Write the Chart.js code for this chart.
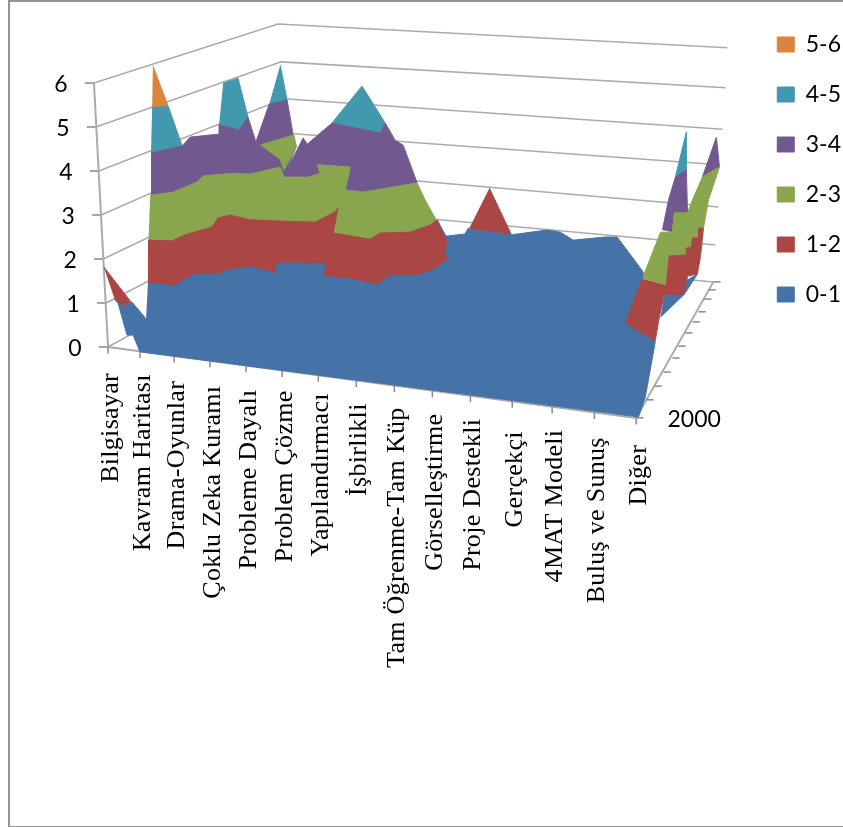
<!DOCTYPE html>
<html lang="tr">
<head>
<meta charset="utf-8">
<title>Yöntemler</title>
<script src="https://cdn.jsdelivr.net/npm/chart.js@4"></script>
<style>
    html, body { margin: 0; padding: 0; background: #fff; overflow: hidden; }
    #frame { position: absolute; left: 8px; top: 0; width: 900px; height: 824px; border: 2px solid #949494; box-sizing: content-box; }
    #surface { position: absolute; left: 0; top: 0; }
</style>
</head>
<body>
<div id="frame"></div>
<canvas id="surface" width="843" height="827"></canvas>
<script>
// Axis texts
const categories = ['Bilgisayar', 'Kavram Haritası', 'Drama-Oyunlar', 'Çoklu Zeka Kuramı', 'Probleme Dayalı',
    'Problem Çözme', 'Yapılandırmacı', 'İşbirlikli', 'Tam Öğrenme-Tam Küp', 'Görselleştirme',
    'Proje Destekli', 'Gerçekçi', '4MAT Modeli', 'Buluş ve Sunuş', 'Diğer'];
const valueTicks = [0, 1, 2, 3, 4, 5, 6];
const bandLabels = ['5-6', '4-5', '3-4', '2-3', '1-2', '0-1'];
const seriesLabel = '2000';

// Where each category and year sits along the slanted floor edges [category position, value]
const categoryStops = [0, 0.84, 1.74, 2.68, 3.63, 4.58, 5.53, 6.53, 7.53, 8.53, 9.53, 10.63, 11.68, 12.79, 13.89];
const categoryLabelGaps = [26, 23, 25, 25, 24, 20, 18, 23, 22, 23, 23, 30, 23, 25, 27];
const seriesStops = [[13.89, -1.61], [14.16, -1.20], [14.37, -0.89], [14.61, -0.57], [14.84, -0.25], [15.00, 0.02],
    [15.18, 0.32], [15.37, 0.57], [15.53, 0.80], [15.68, 1.09], [15.79, 1.30], [15.92, 1.48]];

// Walls: front, back-left and back-right end of every value level, 0 to 6
const wallFront = [[0, 0], [-0.05, 1], [-0.13, 2], [-0.18, 3], [-0.24, 4], [-0.32, 5], [-0.37, 6]];
const wallBackLeft = [[4.95, 2.36], [4.87, 3.20], [4.79, 4.02], [4.71, 4.86], [4.63, 5.64], [4.55, 6.48], [4.47, 7.34]];
const wallBackRight = [[15.92, 1.48], [15.97, 2.32], [16.05, 3.18], [16.08, 4.14], [16.16, 4.95], [16.24, 5.89], [16.29, 6.80]];

// Surface bands, outlined as [category position, value]
const orangePeak = [[1.18, 6.39], [1.58, 5.48], [1.16, 5.43]];

const tealKavram = [[1.16, 5.43], [1.58, 5.48], [1.95, 4.57], [1.13, 4.41]];
const tealCoklu = [[3.03, 6.00], [3.42, 6.11], [3.68, 5.23], [3.45, 4.93], [2.92, 5.05]];
const tealProblem = [[4.53, 6.41], [4.71, 5.61], [4.24, 5.52]];
const tealIsbirlikli = [[5.89, 5.09], [6.68, 5.93], [7.29, 5.09], [7.16, 4.86]];
const tealDiger = [[14.92, 3.86], [15.21, 4.89], [15.21, 4.02]];

const purpleLeft = [[1.13, 4.41], [1.95, 4.57], [2.16, 4.77], [2.92, 4.84], [2.92, 5.05], [3.45, 4.93], [3.68, 5.23],
    [3.89, 4.66], [4.24, 5.52], [4.71, 5.61], [4.87, 4.82], [4.95, 4.55], [4.63, 3.86], [4.53, 3.57], [1.13, 3.23]];
const greenNotch = [[4.00, 4.59], [4.53, 4.73], [4.89, 4.82], [4.95, 4.55], [4.63, 4.02], [4.53, 4.25]];
const purpleMiddle = [[4.61, 3.86], [5.13, 4.75], [5.24, 4.61], [5.89, 5.09], [7.16, 4.86], [7.29, 5.09], [7.55, 4.70],
    [7.76, 4.59], [8.13, 3.73], [6.71, 3.52], [6.24, 3.57], [6.37, 4.09], [5.50, 4.14], [5.58, 3.95], [5.26, 3.86]];
const purpleRightA = [[14.58, 2.66], [14.74, 3.34], [14.92, 3.86], [15.21, 4.02], [15.24, 3.05], [14.89, 3.05], [14.84, 2.61]];
const purpleRightB = [[15.63, 3.86], [16.00, 4.77], [16.08, 4.09], [15.79, 3.95]];

const greenMain = [[1.11, 3.45], [1.71, 3.52], [2.34, 3.75], [2.50, 3.89], [3.29, 3.95], [3.74, 3.93], [4.53, 4.09],
    [4.63, 3.86], [5.26, 3.86], [5.58, 3.95], [5.50, 4.14], [6.37, 4.09], [6.24, 3.57], [6.71, 3.52], [8.13, 3.73],
    [8.34, 3.34], [8.66, 2.84], [8.47, 2.43], [1.05, 2.09]];
const greenRight = [[14.05, 1.55], [14.53, 2.61], [14.84, 2.61], [14.89, 3.05], [15.24, 3.05], [15.37, 3.34],
    [15.63, 3.86], [15.79, 3.95], [16.08, 4.09], [15.79, 3.34], [15.66, 2.70], [15.53, 2.70], [15.53, 2.48],
    [15.37, 2.48], [15.34, 2.27], [15.21, 2.25], [15.21, 2.09], [14.76, 2.07], [14.68, 1.41]];

const redPeak = [[10.03, 3.61], [10.61, 2.55], [9.61, 2.66], [9.50, 2.70]];
const redTip = [[-0.11, 1.82], [0.61, 1.02], [0.39, 0.91], [0.18, 1.07]];
const redMain = [[1.05, 2.43], [1.68, 2.41], [2.03, 2.55], [2.74, 2.73], [2.89, 2.93], [3.21, 3.00], [3.74, 2.89],
    [4.53, 2.86], [5.45, 2.84], [5.97, 3.07], [6.05, 3.16], [5.92, 2.59], [6.89, 2.45], [7.16, 2.59], [7.95, 2.61],
    [8.47, 2.77], [8.66, 2.89], [8.95, 2.39], [8.87, 2.20], [8.95, 2.02], [8.66, 1.80], [8.21, 1.41], [1.05, 1.07]];
const redRight = [[14.05, 1.55], [13.61, 0.55], [14.39, 0.14], [14.50, 0.68], [14.63, 1.20], [15.13, 1.20], [15.24, 1.61],
    [15.50, 1.66], [15.58, 2.05], [15.66, 2.70], [15.53, 2.70], [15.53, 2.48], [15.37, 2.48], [15.34, 2.27],
    [15.21, 2.25], [15.21, 2.09], [14.76, 2.07], [14.68, 1.41]];

const blueMain = [[1.05, 1.45], [1.76, 1.39], [2.21, 1.64], [2.95, 1.66], [3.16, 1.75], [3.74, 1.82], [4.32, 1.70],
    [4.42, 1.66], [4.45, 1.89], [4.53, 1.91], [5.05, 1.91], [5.63, 1.89], [5.71, 1.91], [5.66, 1.61], [6.32, 1.55],
    [7.08, 1.41], [7.37, 1.61], [8.21, 1.64], [8.66, 1.80], [8.95, 2.02], [8.87, 2.20], [8.95, 2.39], [8.66, 2.86],
    [8.89, 2.52], [9.39, 2.57], [9.47, 2.70], [9.61, 2.66], [10.61, 2.55], [11.55, 2.66], [11.89, 2.61], [12.24, 2.43],
    [13.08, 2.50], [13.39, 2.50], [14.08, 1.70], [14.05, 1.55], [14.39, 0.11], [14.13, -1.14], [13.95, -1.59],
    [0.84, -0.11], [0.66, 0.27], [0.50, 0.27], [0.24, 1.07], [0.39, 0.91], [0.63, 1.02], [1.00, 0.64]];
const blueRight = [[14.63, 1.20], [15.50, 1.66], [15.16, 1.20], [14.53, 0.68]];

const FLOOR_SLOPE = -0.116; // value lost per category along the front floor edge
const ORANGE = '#DB843D', TEAL = '#4198AF', PURPLE = '#71588F', GREEN = '#89A54E', RED = '#AA4643', BLUE = '#4572A7';
const WALL_GREY = '#ABABAB', TICK_GREY = '#8A8A8A';

function toPoints(pairs) {
    return pairs.map(p => ({ x: p[0], y: p[1] }));
}

function lineSet(pairs, color, width) {
    return {
        label: '', data: toPoints(pairs), showLine: true, fill: false, tension: 0,
        borderColor: color, borderWidth: width, pointRadius: 0, clip: false
    };
}

function bandSet(pairs, color, label) {
    return {
        label: label || '', data: toPoints(pairs), showLine: true, fill: 'shape', tension: 0.001,
        backgroundColor: color, borderColor: color, borderWidth: 1, pointRadius: 0, clip: false
    };
}

// Walls and ticks go first, the surface on top of them from back to front
const datasets = [];
valueTicks.forEach(v => {
    datasets.push(lineSet([wallFront[v], wallBackLeft[v], wallBackRight[v]], WALL_GREY, 1.5));
    datasets.push(lineSet([[wallFront[v][0] - 0.24, v], wallFront[v]], TICK_GREY, 1.5));
});
datasets.push(lineSet([wallFront[0], wallFront[6]], WALL_GREY, 2));
datasets.push(lineSet([wallFront[0], [categoryStops[14], categoryStops[14] * FLOOR_SLOPE]], WALL_GREY, 2));
datasets.push(lineSet([seriesStops[0], seriesStops[11]], WALL_GREY, 2));
categoryStops.forEach(c => {
    datasets.push(lineSet([[c, c * FLOOR_SLOPE], [c, c * FLOOR_SLOPE - 0.15]], TICK_GREY, 1.5));
});
seriesStops.forEach(s => {
    datasets.push(lineSet([s, [s[0] + 0.19, s[1]]], TICK_GREY, 1.5));
});

datasets.push(bandSet(orangePeak, ORANGE, bandLabels[0]));
datasets.push(bandSet(tealKavram, TEAL, bandLabels[1]));
[tealCoklu, tealProblem, tealIsbirlikli, tealDiger].forEach(b => datasets.push(bandSet(b, TEAL)));
datasets.push(bandSet(purpleLeft, PURPLE, bandLabels[2]));
datasets.push(bandSet(greenNotch, GREEN));
[purpleMiddle, purpleRightA, purpleRightB].forEach(b => datasets.push(bandSet(b, PURPLE)));
datasets.push(bandSet(greenMain, GREEN, bandLabels[3]));
datasets.push(bandSet(greenRight, GREEN));
datasets.push(bandSet(redPeak, RED));
datasets.push(bandSet(redTip, RED));
datasets.push(bandSet(redMain, RED, bandLabels[4]));
datasets.push(bandSet(blueMain, BLUE, bandLabels[5]));
datasets.push(bandSet(blueRight, BLUE));
datasets.push(bandSet(redRight, RED));

// Chart.js paints the highest order first
datasets.forEach((d, i) => { d.order = datasets.length - i; });

// The axis texts follow the slanted edges, so they are placed from the scales by hand
const slantedLabels = {
    id: 'slantedLabels',
    afterDraw(chart) {
        const ctx = chart.ctx;
        const xs = chart.scales.x, ys = chart.scales.y;
        ctx.save();
        ctx.fillStyle = '#000';

        ctx.font = '23px Lato';
        ctx.textAlign = 'center';
        ctx.textBaseline = 'middle';
        valueTicks.forEach(v => {
            ctx.fillText(String(v), xs.getPixelForValue(wallFront[v][0]) - 33, ys.getPixelForValue(v) + 2);
        });
        ctx.fillText(seriesLabel, xs.getPixelForValue(categoryStops[14]) + 58, ys.getPixelForValue(categoryStops[14] * FLOOR_SLOPE) + 2);

        ctx.font = '26px "Liberation Serif"';
        ctx.letterSpacing = '0.3px';
        ctx.textAlign = 'right';
        categories.forEach((name, i) => {
            const c = categoryStops[i];
            ctx.save();
            ctx.translate(xs.getPixelForValue(c) + 3, ys.getPixelForValue(c * FLOOR_SLOPE) + categoryLabelGaps[i]);
            ctx.rotate(-Math.PI / 2);
            ctx.fillText(name, 0, 0);
            ctx.restore();
        });
        ctx.restore();
    }
};

new Chart(document.getElementById('surface'), {
    type: 'scatter',
    data: { datasets: datasets },
    plugins: [slantedLabels],
    options: {
        responsive: false,
        animation: false,
        events: [],
        layout: { padding: { left: 70, top: 6, bottom: 383.2, right: -8 } },
        scales: {
            x: { type: 'linear', display: false, min: -1, max: 16.89 },
            y: { type: 'linear', display: false, min: -2.2, max: 7.75 }
        },
        plugins: {
            tooltip: { enabled: false },
            legend: {
                position: 'right',
                align: 'start',
                reverse: true,
                labels: {
                    filter: item => item.text !== '',
                    boxWidth: 17,
                    boxHeight: 15,
                    padding: 27,
                    color: '#000',
                    font: { family: 'Lato', size: 23 }
                }
            }
        }
    }
});
</script>
</body>
</html>
